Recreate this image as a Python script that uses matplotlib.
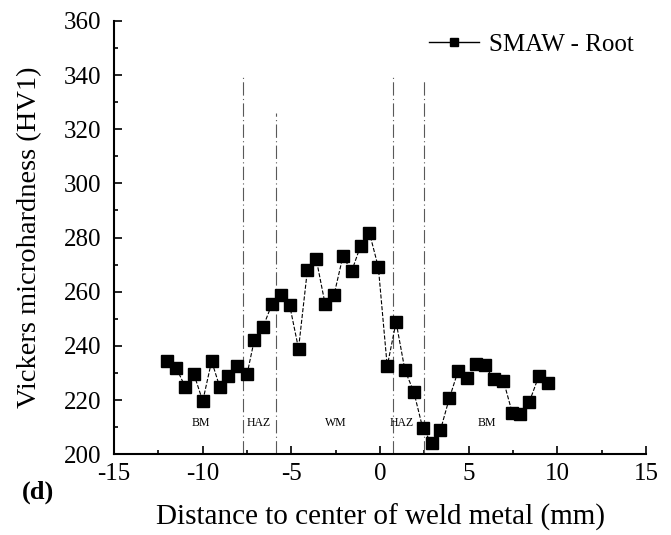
import matplotlib
matplotlib.use('Agg')
import matplotlib.pyplot as plt
from matplotlib.lines import Line2D
from matplotlib.ticker import MultipleLocator

plt.rcParams['font.family'] = ['Liberation Serif', 'DejaVu Serif']
plt.rcParams['axes.unicode_minus'] = False

# datos
distancia = [-12.0, -11.5, -11.0, -10.5, -10.0, -9.5, -9.05, -8.55, -8.05, -7.5,
             -7.1, -6.6, -6.1, -5.6, -5.1, -4.6, -4.1, -3.6, -3.1, -2.6,
             -2.1, -1.6, -1.1, -0.6, -0.1, 0.4, 0.9, 1.4, 1.9, 2.4,
             2.9, 3.4, 3.9, 4.4, 4.9, 5.4, 5.9, 6.4, 6.95, 7.45,
             7.9, 8.4, 8.95, 9.45]
dureza = [234.4, 232.0, 225.0, 229.6, 219.6, 234.4, 225.0, 229.0, 232.5, 229.6,
          242.0, 247.0, 255.4, 258.8, 255.0, 239.0, 268.0, 272.0, 255.4, 258.8,
          273.0, 267.6, 277.0, 281.7, 269.0, 232.5, 248.8, 231.0, 223.0, 209.7,
          204.0, 208.9, 220.6, 230.8, 228.3, 233.3, 232.9, 227.7, 227.2, 215.3,
          214.9, 219.1, 228.9, 226.4]

# limites de zona
limites_x = [-7.75, -5.85, 0.7, 2.45]
limites_top = [340, 326, 340, 338]
zonas = ['BM', 'HAZ', 'WM', 'HAZ', 'BM']
zonas_x = [-10.1, -6.85, -2.5, 1.2, 6.0]

fig = plt.figure(figsize=(6.71, 5.35), dpi=100)
ax = fig.add_axes([0.17, 0.151, 0.793, 0.81])

for xv, top in zip(limites_x, limites_top):
    ax.vlines(xv, 200, top, colors='0.35', linestyles=(0, (12, 3, 1, 3)), lw=0.8)

ax.plot(distancia, dureza, color='black', ls='--', lw=0.8,
        marker='s', markersize=8.5, markerfacecolor='black', markeredgecolor='black')

for nombre, xz in zip(zonas, zonas_x):
    ax.text(xz, 211.5, nombre, fontsize=8.5, ha='center', va='center')

ax.set_xlim(-15, 15)
ax.set_ylim(200, 360)
ax.xaxis.set_major_locator(MultipleLocator(5))
ax.xaxis.set_minor_locator(MultipleLocator(2.5))
ax.yaxis.set_major_locator(MultipleLocator(20))
ax.yaxis.set_minor_locator(MultipleLocator(10))
ax.tick_params(which='both', direction='in', labelsize=18, width=1.2)
ax.tick_params(which='major', length=6)
ax.tick_params(which='minor', length=3)
ax.tick_params(axis='x', pad=6)
ax.tick_params(axis='y', pad=9)
ax.spines['top'].set_visible(False)
ax.spines['right'].set_visible(False)
ax.spines['left'].set_linewidth(1.5)
ax.spines['bottom'].set_linewidth(1.5)

ax.set_xlabel('Distance to center of weld metal (mm)', fontsize=21, labelpad=14)
ax.set_ylabel('Vickers microhardness (HV1)', fontsize=20.5, labelpad=16)

proxy = Line2D([], [], color='black', lw=1.0, marker='s', markersize=6)
ax.legend([proxy], ['SMAW - Root'], loc='upper right', frameon=False,
          fontsize=18, handlelength=2.0, handletextpad=0.4, borderaxespad=0.1)

fig.text(0.032, 0.068, '(d)', fontsize=19, fontweight='bold')

plt.savefig('out.png', dpi=100)
